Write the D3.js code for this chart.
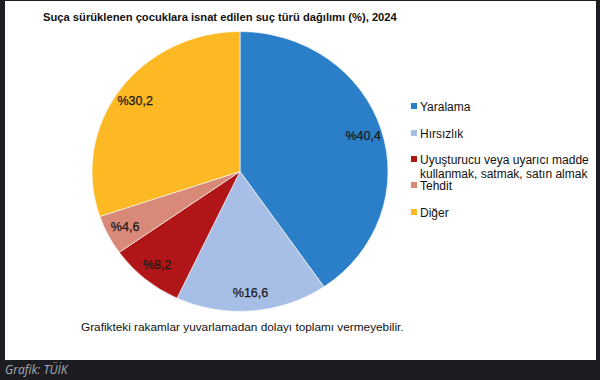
<!DOCTYPE html>
<html>
<head>
<meta charset="utf-8">
<script src="https://cdn.jsdelivr.net/npm/d3@7"></script>
<style>
  body { margin: 0; background: #1c1d22; }
  svg { display: block; }
</style>
</head>
<body>
<svg width="600" height="380"></svg>
<script>
const categories = ['Yaralama', 'Hırsızlık', 'Uyuşturucu veya uyarıcı madde kullanmak, satmak, satın almak', 'Tehdit', 'Diğer'];
const legendLines = [['Yaralama'], ['Hırsızlık'], ['Uyuşturucu veya uyarıcı madde', 'kullanmak, satmak, satın almak'], ['Tehdit'], ['Diğer']];
const values = [40.4, 16.6, 8.2, 4.6, 30.2];
const valueLabels = ['%40,4', '%16,6', '%8,2', '%4,6', '%30,2'];
const colors = ['#2a7fc8', '#a7bee6', '#b01617', '#d98977', '#fdb923'];

const svg = d3.select('svg');

// frame
svg.append('rect').attr('x', 5).attr('y', 1).attr('width', 591).attr('height', 359).attr('fill', '#fff');
svg.append('text')
    .attr('x', 5).attr('y', 374)
    .attr('font-family', 'Open Sans, sans-serif').attr('font-style', 'italic')
    .attr('font-size', 12).attr('fill', '#a9abb0')
    .text('Grafik: TÜİK');

svg.append('text')
    .attr('x', 43).attr('y', 21)
    .attr('font-family', 'Liberation Sans, Arial, sans-serif').attr('font-weight', 'bold')
    .attr('font-size', 11.2).attr('fill', '#111')
    .text('Suça sürüklenen çocuklara isnat edilen suç türü dağılımı (%), 2024');

const cx = 240, cy = 171.5, r = 140, sx = 148 / 140;

const pie = d3.pie().sort(null).value(d => d);
const arcs = pie(values);
const arc = d3.arc().innerRadius(0).outerRadius(r);
const labelArc = d3.arc().innerRadius(122).outerRadius(122);

const g = svg.append('g').attr('transform', `translate(${cx},${cy})`);
g.append('g').attr('transform', `scale(${sx},1)`)
    .selectAll('path')
    .data(arcs)
    .enter()
    .append('path')
    .attr('d', arc)
    .attr('fill', (d, i) => colors[i])
    .attr('stroke', '#fff')
    .attr('stroke-width', 0.6);

g.selectAll('text.val')
    .data(arcs)
    .enter()
    .append('text')
    .attr('class', 'val')
    .attr('x', d => labelArc.centroid(d)[0] * sx)
    .attr('y', d => labelArc.centroid(d)[1])
    .attr('dy', '0.35em')
    .attr('text-anchor', 'middle')
    .attr('font-family', 'Liberation Sans, Arial, sans-serif')
    .attr('font-size', 12.5).attr('fill', '#1a1a1a')
    .attr('stroke', '#1a1a1a').attr('stroke-width', 0.25)
    .text((d, i) => valueLabels[i]);

// legend
const legendY = [107, 134, 160, 186, 213];
const lg = svg.append('g').attr('font-family', 'Liberation Sans, Arial, sans-serif').attr('font-size', 12).attr('fill', '#111');
legendLines.forEach((lines, i) => {
    lg.append('rect').attr('x', 411).attr('y', legendY[i] - 4).attr('width', 6).attr('height', 6).attr('fill', colors[i]);
    lines.forEach((t, j) => {
        lg.append('text').attr('x', 420).attr('y', legendY[i] + j * 13.5).attr('dy', '0.35em').text(t);
    });
});

svg.append('text')
    .attr('x', 81).attr('y', 331)
    .attr('font-family', 'Liberation Sans, Arial, sans-serif')
    .attr('font-size', 11.8).attr('fill', '#111')
    .text('Grafikteki rakamlar yuvarlamadan dolayı toplamı vermeyebilir.');
</script>
</body>
</html>
